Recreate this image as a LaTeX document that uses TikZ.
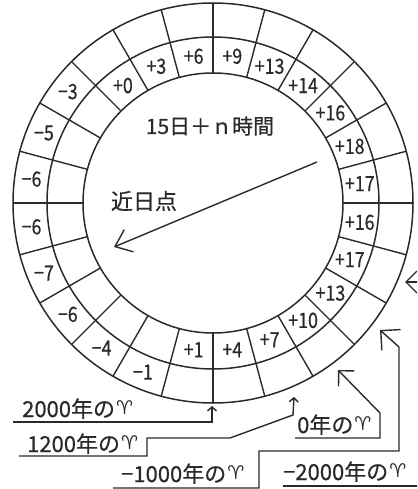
\documentclass[tikz,border=0pt]{standalone}
\usepackage{fontspec}
\usepackage{graphicx}
\setmainfont{Noto Sans CJK JP}[FakeBold=0.5,AutoFakeBold=0.5]
\newfontfamily\symf{DejaVu Sans}
\usetikzlibrary{arrows.meta}
\definecolor{ink}{HTML}{2A2A2A}
\newcommand\aries{\hspace{1pt}\raisebox{3pt}{\symf\fontsize{19}{20}\selectfont ♈}}
\begin{document}
\begin{tikzpicture}[x=1pt,y=-1pt,
  ring/.style={draw=ink,line width=1.5pt},
  spoke/.style={draw=ink,line width=1.4pt},
  cell/.style={font=\fontsize{21}{22}\selectfont\bfseries,text=ink,inner sep=0pt},
  title/.style={font=\fontsize{21}{24}\selectfont\bfseries,text=ink,inner sep=0pt},
  lbl/.style={font=\fontsize{22}{24}\selectfont\bfseries,text=ink,inner sep=0pt,anchor=base west},
  lead/.style={draw=ink,line width=1.4pt},
  bigtip/.style={-{Straight Barb[length=11pt,width=22pt]}},
  smalltip/.style={-{Straight Barb[length=4pt,width=9pt]}}
]
\useasboundingbox (0,0) rectangle (417,489);
\clip (0,0) rectangle (417,489);
\coordinate (O) at (213,203);
\draw[ring] (O) circle[radius=200pt];
\draw[ring] (O) circle[radius=166pt];
\draw[ring] (O) circle[radius=130pt];
\foreach \a in {0,15,...,345}
  \draw[spoke] ({213+130*sin(\a)},{203-130*cos(\a)}) -- ({213+200*sin(\a)},{203-200*cos(\a)});
\foreach \k/\v/\r in {0/+9/148,1/+13/148,2/+14/148,3/+16/148,4/+18/148,5/+17/148,
  6/+16/148,7/+17/148,8/+13/148,9/+10/148,10/+7/148,11/+4/148,12/+1/148,
  13/−1/183,14/−4/183,15/−6/183,16/−7/183,17/−6/183,18/−6/183,19/−5/183,20/−3/183,
  21/+0/148,22/+3/148,23/+6/148}
  \node[cell] (c\k) at ({213+\r*sin(15*\k+7.5)},{203-\r*cos(15*\k+7.5)}) {\scalebox{0.85}[1]{\v}};
\node[title] (t) at (210,126) {15日＋ｎ時間};
\node[title,font=\fontsize{22}{24}\selectfont\bfseries] (p) at (144,201) {近日点};
\coordinate (pa) at (317,162);
\coordinate (pb) at (114,247);
\draw[lead,line width=1.4pt,-{Straight Barb[length=15pt,width=24pt]}] (pa) -- (pb);
% bottom labels
\node[lbl] (l2000) at (22,417) {2000年の\aries};
\node[lbl] (l1200) at (27,452) {1200年の\aries};
\node[lbl] (l0) at (297,433) {0年の\aries};
\node[lbl] (lm1000) at (121,482) {−1000年の\aries};
\node[lbl] (lm2000) at (283,480) {−2000年の\aries};
\coordinate (a2000) at (212,406);
\coordinate (a1200) at (294,397);
\coordinate (a0) at (338,370);
\coordinate (am1000) at (380,330);
\coordinate (am2000) at (405,282);
\draw[lead,smalltip] (13,422) -- (212,422) -- (a2000);
\draw[lead,smalltip] (19,456) -- (147,456) -- (147,438) -- (230,438) -- (293,415) -- (a1200);
\draw[lead,bigtip] (295,438) -- (380,438) -- (380,413) -- (a0);
\draw[lead,-{Straight Barb[length=14pt,width=28pt]}] (113,488) -- (259,488) -- (259,451) -- (399,451) -- (399,347) -- (am1000);
\draw[lead,bigtip] (283,486) -- (430,486) -- (430,282) -- (am2000);
\end{tikzpicture}
\end{document}
